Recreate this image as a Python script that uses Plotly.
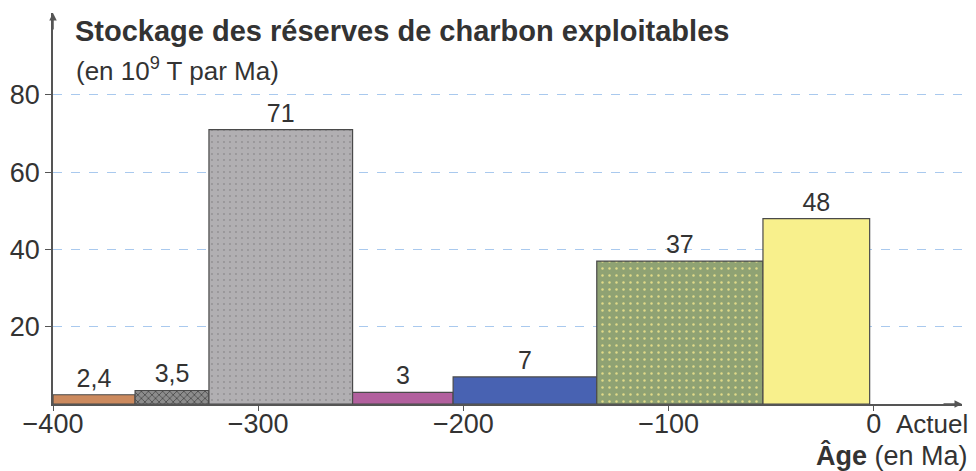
import numpy as np
import plotly.graph_objects as go

# ---- data ----
age_bounds = [-400, -360, -324, -254, -205, -135, -54, -2]   # Ma, bar edges
reserves = [2.4, 3.5, 71, 3, 7, 37, 48]                        # 10^9 T per Ma
value_labels = ["2,4", "3,5", "71", "3", "7", "37", "48"]
x_ticks = [-400, -300, -200, -100, 0]
y_ticks = [20, 40, 60, 80]

# ---- styling ----
bar_colors = ["#CC8A5E", "#8C8C8C", "#B1AFB2", "#B2609E", "#4862B2", "#8FA273", "#F8F08C"]
pat_shapes = ["", "x", ".", "", "", ".", ""]
pat_fg = ["#A86A44", "#4A4A4A", "#929092", "#8E4A7E", "#3A52A0", "#E0DA88", "#F0E67A"]
pat_size = [6, 5, 6, 6, 6, 7, 6]
pat_sol = [0.1, 0.3, 0.08, 0.1, 0.1, 0.1, 0.1]
FONT = "Liberation Sans, Arial, sans-serif"
TXT = "#333333"
AX = "#555555"

edges = np.array(age_bounds, dtype=float)
centers = (edges[:-1] + edges[1:]) / 2
widths = np.diff(edges)

fig = go.Figure()
for i in range(len(reserves)):
    fig.add_trace(go.Bar(
        x=[centers[i]], y=[reserves[i]], width=[widths[i]],
        marker=dict(color=bar_colors[i],
                    line=dict(color="#4A4A4A", width=1.2),
                    pattern=dict(shape=pat_shapes[i], fgcolor=pat_fg[i], bgcolor=bar_colors[i],
                                 fillmode="replace", size=pat_size[i], solidity=pat_sol[i])),
        text=[value_labels[i]], textposition="outside", constraintext="none",
        textfont=dict(family=FONT, size=25, color=TXT),
        cliponaxis=False, showlegend=False, hoverinfo="skip",
    ))

XMAX = 43
YMAX = 101.2

fig.update_layout(
    width=976, height=471, barmode="overlay",
    margin=dict(l=53, r=14, t=13, b=67, autoexpand=False),
    paper_bgcolor="white", plot_bgcolor="white",
    font=dict(family=FONT, color=TXT),
    xaxis=dict(range=[-400, XMAX], tickvals=x_ticks, ticks="outside", ticklen=5,
               tickcolor=AX, tickwidth=1.2, showline=True, linecolor=AX, linewidth=1.5,
               showgrid=False, zeroline=False, automargin=False, ticklabelstandoff=-10,
               tickfont=dict(size=27, color=TXT, family=FONT)),
    yaxis=dict(range=[0, YMAX], tickvals=y_ticks, ticks="outside", ticklen=6,
               tickcolor=AX, tickwidth=1.2, showline=True, linecolor=AX, linewidth=1.5,
               showgrid=True, gridcolor="#A9C9EE", griddash="dash", gridwidth=1,
               zeroline=False, automargin=False,
               tickfont=dict(size=27, color=TXT, family=FONT)),
)

# axis arrows
fig.add_annotation(x=-400, y=YMAX, xref="x", yref="y", ax=0, ay=18, text="",
                   showarrow=True, arrowhead=2, arrowsize=1, arrowwidth=1.5, arrowcolor=AX)
fig.add_annotation(x=XMAX, y=0, xref="x", yref="y", ax=-20, ay=0, text="",
                   showarrow=True, arrowhead=2, arrowsize=1, arrowwidth=1.5, arrowcolor=AX)

# titles
fig.add_annotation(x=0, y=1, xref="paper", yref="paper", xanchor="left", yanchor="middle",
                   xshift=20, yshift=-18, showarrow=False,
                   text="<b>Stockage des réserves de charbon exploitables</b>",
                   font=dict(size=29, color=TXT, family=FONT))
fig.add_annotation(x=0, y=1, xref="paper", yref="paper", xanchor="left", yanchor="middle",
                   xshift=21, yshift=-56, showarrow=False,
                   text="(en 10<sup>9</sup> T par Ma)",
                   font=dict(size=26, color=TXT, family=FONT))

# x-axis extra labels
fig.add_annotation(x=0, y=0, xref="x", yref="y", xanchor="left", yanchor="top",
                   xshift=20, yshift=-3, showarrow=False, text="Actuel",
                   font=dict(size=26, color=TXT, family=FONT))
fig.add_annotation(x=1, y=0, xref="paper", yref="paper", xanchor="right", yanchor="top",
                   xshift=8, yshift=-34, showarrow=False,
                   text="<b>Âge</b> (en Ma)",
                   font=dict(size=27, color=TXT, family=FONT))

fig.write_html("out.html", config={"displayModeBar": False},
               post_script="document.body.style.margin='0';document.body.style.overflow='hidden';")
